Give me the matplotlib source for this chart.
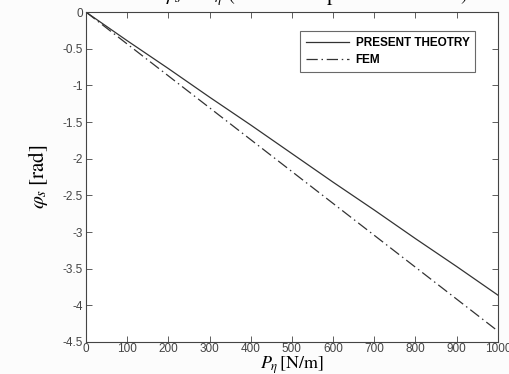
import numpy as np
import matplotlib
matplotlib.use("Agg")
import matplotlib.pyplot as plt

# rc settings, matlab-ish look
matplotlib.rcParams.update({
    "font.family": "Liberation Sans",
    "font.size": 9,
    "mathtext.fontset": "stix",
    "axes.unicode_minus": False,
    "xtick.direction": "in",
    "ytick.direction": "in",
    "xtick.top": True,
    "ytick.right": True,
})

# data
load = [0, 100, 200, 300, 400, 500, 600, 700, 800, 900, 1000]                          # P_eta [N/m]
theory = [0, -0.39, -0.77, -1.16, -1.54, -1.93, -2.32, -2.70, -3.09, -3.47, -3.86]      # present theory
fem = [0, -0.435, -0.87, -1.305, -1.74, -2.175, -2.61, -3.045, -3.48, -3.915, -4.35]    # FEM

xticks = np.arange(0, 1001, 100)
yticks = np.arange(-4.5, 0.01, 0.5)
yticklabels = ["%g" % v for v in yticks]

fig = plt.figure(figsize=(5.09, 3.74), dpi=100, facecolor="#fcfcfc")
ax = fig.add_axes([0.169, 0.0856, 0.809, 0.882])
ax.set_facecolor("white")

ax.plot(load, theory, "-", color="#333333", lw=0.9, label="PRESENT THEOTRY")
ax.plot(load, fem, color="#333333", lw=0.9, dashes=(9, 3, 1.2, 3), label="FEM")

ax.set_xlim(0, 1000)
ax.set_ylim(-4.5, 0)
ax.set_xticks(xticks)
ax.set_yticks(yticks)
ax.set_yticklabels(yticklabels)
ax.tick_params(length=4, width=0.6, colors="#444444", labelcolor="#444444", labelsize=8.5, pad=2)
ax.tick_params(axis="x", pad=1)
for s in ax.spines.values():
    s.set_linewidth(0.8)
    s.set_color("#444444")

ax.set_xlabel(r"$P_\eta\,[\mathrm{N/m}]$", fontsize=13, labelpad=-0.5)
ax.set_ylabel(r"$\varphi_s\;[\mathrm{rad}]$", fontsize=15, labelpad=9)

# legend box, bold text
leg = ax.legend(loc="upper right", bbox_to_anchor=(0.96, 0.96), fancybox=False,
                handlelength=3.6, borderpad=0.5, labelspacing=0.45, handletextpad=0.6,
                prop={"weight": "bold", "size": 8.5})
leg.get_frame().set_edgecolor("#444444")
leg.get_frame().set_linewidth(0.8)

# title is cut off at the top of the image
fig.text(0.62, 1.012, r"$\varphi_s - P_\eta\ (\mathrm{Cantilever\ plate\ under\ load})$",
         ha="center", va="center", fontsize=15)

plt.savefig("out.png", dpi=100, facecolor=fig.get_facecolor())
